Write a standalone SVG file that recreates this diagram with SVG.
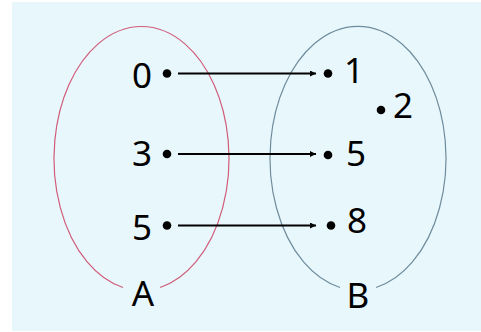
<svg xmlns="http://www.w3.org/2000/svg" width="481" height="332" viewBox="0 0 481 332">
<style>
.t{font-family:"Noto Sans","Open Sans",sans-serif;font-size:35px;fill:#000;text-anchor:middle}
.d{fill:#000}
.c{stroke:#000;stroke-width:1.8;fill:none}
</style>
<defs>
<marker id="ah" viewBox="0 0 10 10" refX="10" refY="5" markerWidth="7" markerHeight="6" markerUnits="userSpaceOnUse" orient="auto">
<path d="M0,0 L10,5 L0,10 z" fill="#000"/>
</marker>
</defs>
<rect x="0" y="0" width="481" height="332" fill="#fff"/>
<rect x="12" y="2" width="469" height="329" fill="#E8F7FC"/>
<g id="setA">
<path d="M123,287.5 A87.5,132 0 1 1 160,287.5" fill="none" stroke="#D05C78" stroke-width="1.2"/>
<text class="t" x="143" y="306">A</text>
</g>
<g id="setB">
<path d="M340,287.5 A88,132 0 1 1 376,287.5" fill="none" stroke="#6F8C9C" stroke-width="1.2"/>
<text class="t" x="358" y="308">B</text>
</g>
<g id="a0"><circle class="d" cx="167" cy="73.5" r="4.3"/><text class="t" x="142" y="88">0</text></g>
<g id="a3"><circle class="d" cx="167" cy="154" r="4.3"/><text class="t" x="142" y="166">3</text></g>
<g id="a5"><circle class="d" cx="167" cy="225.5" r="4.3"/><text class="t" x="142" y="240">5</text></g>
<g id="b1"><circle class="d" cx="328" cy="73.5" r="4.3"/><text class="t" x="354" y="83">1</text></g>
<g id="b2"><circle class="d" cx="381" cy="110" r="4.3"/><text class="t" x="403" y="118">2</text></g>
<g id="b5"><circle class="d" cx="328" cy="155" r="4.3"/><text class="t" x="356" y="166">5</text></g>
<g id="b8"><circle class="d" cx="331" cy="225.5" r="4.3"/><text class="t" x="357" y="233">8</text></g>
<g id="connectors">
<line class="c" x1="178" y1="73.5" x2="316" y2="73.5" marker-end="url(#ah)"/>
<line class="c" x1="178" y1="154" x2="316" y2="154" marker-end="url(#ah)"/>
<line class="c" x1="178" y1="225.5" x2="316" y2="225.5" marker-end="url(#ah)"/>
</g>
</svg>
